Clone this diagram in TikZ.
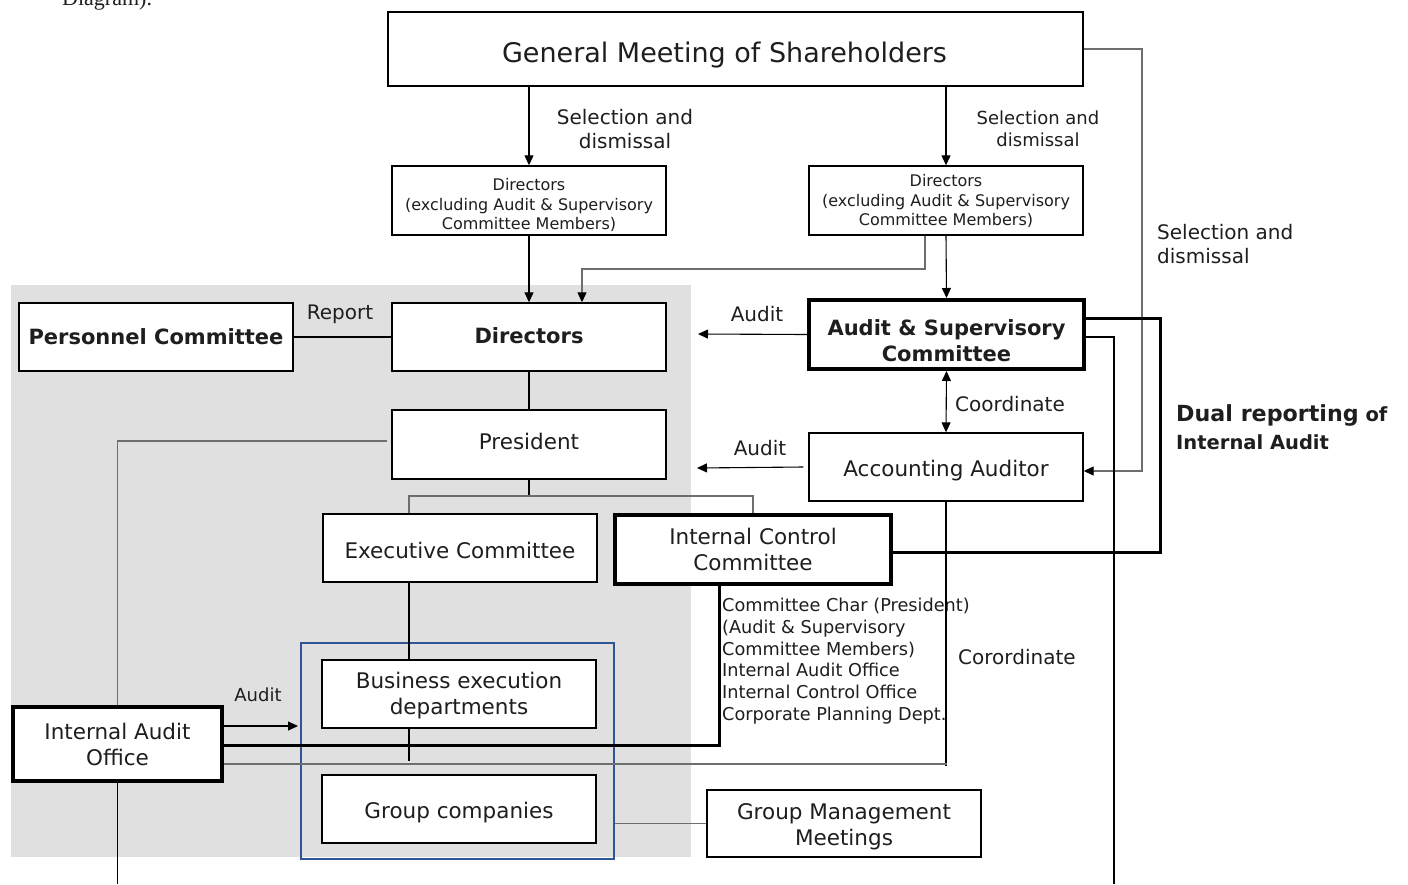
\documentclass[tikz,border=0pt]{standalone}
\usepackage{fontspec}
\setmainfont{DejaVu Sans}
\newfontfamily\seriffont{Liberation Serif}
\usetikzlibrary{arrows.meta}
\definecolor{bgray}{HTML}{E0E0E0}
\definecolor{bblue}{HTML}{2F5597}
\definecolor{lgray}{HTML}{6E6E6E}
\definecolor{txt}{HTML}{1E1E1E}
\begin{document}
\begin{tikzpicture}[x=1pt,y=-1pt,
  box/.style={draw=black, line width=1.4pt, fill=white, minimum width=274pt, minimum height=68pt, inner sep=0pt},
  tbox/.style={box, line width=4pt},
  bt/.style={text=txt, inner sep=0pt, align=center, font=\fontsize{21.5}{26}\selectfont},
  conn/.style={line width=1.1pt, draw=black},
  gline/.style={line width=1.1pt, draw=lgray},
  tline/.style={line width=3pt, draw=black},
  tip/.style={-{Triangle[length=10pt,width=9pt,color=black]}},
  arr/.style={conn, tip},
  arrr/.style={conn, {Triangle[length=10pt,width=9pt]}-{Triangle[length=10pt,width=9pt]}},
  lbl/.style={text=txt, inner sep=0pt, align=center, font=\fontsize{20}{24}\selectfont}
]
\useasboundingbox (0,0) rectangle (1408,884);
\fill[white] (0,0) rectangle (1408,884);
% gray background
\fill[bgray] (11,285) rectangle (691,857);

\node[lbl, anchor=base west, font=\seriffont\fontsize{22}{26}\selectfont] (diag) at (62,5) {Diagram).};

% boxes
\node[box, minimum width=695pt, minimum height=74pt] (gms) at (735.5,49) {};
\node[bt, xshift=-11pt, yshift=-6pt, font=\fontsize{27}{32}\selectfont] (gmst) at (gms) {General Meeting of Shareholders};
\node[box, minimum height=69pt] (dirl) at (529,200.5) {};
\node[bt, yshift=-4.5pt, font=\fontsize{16}{19.3}\selectfont] (dirlt) at (dirl) {Directors\\(excluding Audit \& Supervisory\\Committee Members)};
\node[box, minimum height=69pt] (dirr) at (946,200.5) {};
\node[bt, yshift=-0.5pt, font=\fontsize{16}{19.3}\selectfont] (dirrt) at (dirr) {Directors\\(excluding Audit \& Supervisory\\Committee Members)};
\node[box] (dir) at (529,337) {};
\node[bt, yshift=1pt, font=\bfseries\fontsize{21}{25}\selectfont] (dirt) at (dir) {Directors};
\node[box] (pers) at (156,337) {};
\node[bt, font=\bfseries\fontsize{21}{25}\selectfont] (perst) at (pers) {Personnel Committee};
\node[tbox, minimum width=275pt, minimum height=69pt] (asc) at (946.5,334.5) {};
\node[bt, yshift=-6pt, font=\bfseries\fontsize{21}{25.5}\selectfont] (asct) at (asc) {Audit \& Supervisory\\Committee};
\node[box] (aa) at (946,467) {};
\node[bt, yshift=-4pt] (aat) at (aa) {Accounting Auditor};
\node[box, minimum height=69pt] (pres) at (529,444.5) {};
\node[bt, yshift=3pt] (prest) at (pres) {President};
\node[box] (exec) at (460,548) {};
\node[bt, yshift=-2pt] (exect) at (exec) {Executive Committee};
\node[tbox, minimum width=276pt, minimum height=69pt] (icc) at (753,549.5) {};
\node[bt] (icct) at (icc) {Internal Control\\Committee};
\node[draw=bblue, line width=2.5pt, minimum width=313pt, minimum height=216pt, inner sep=0pt] (grp) at (457.5,751) {};
\node[box] (bed) at (459,694) {};
\node[bt, yshift=-2pt] (bedt) at (bed) {Business execution\\departments};
\node[box] (gc) at (459,809) {};
\node[bt, yshift=-4pt] (gct) at (gc) {Group companies};
\node[box, minimum height=67pt] (gmm) at (844,823.5) {};
\node[bt, yshift=-3pt] (gmmt) at (gmm) {Group Management\\Meetings};
\node[tbox, minimum width=209pt, minimum height=74pt] (iao) at (117.5,744) {};
\node[bt] (iaot) at (iao) {Internal Audit\\Office};

% labels
\node[lbl] (l1) at (625,129.5) {Selection and\\dismissal};
\node[lbl, font=\fontsize{18}{22}\selectfont] (l2) at (1038,129) {Selection and\\dismissal};
\node[lbl, anchor=west, align=left] (l3) at (1157,244) {Selection and\\dismissal};
\node[lbl] (l4) at (340,314) {Report};
\node[lbl] (l5) at (757,314) {Audit};
\node[lbl, anchor=west] (l6) at (955,404) {Coordinate};
\node[lbl] (l7) at (760,448) {Audit};
\node[lbl, font=\fontsize{18}{22}\selectfont] (l8) at (258,695) {Audit};
\node[lbl, anchor=west] (l9) at (958,657) {Corordinate};
\node[lbl, anchor=north west, align=left, font=\fontsize{17.7}{21.7}\selectfont] (l10) at (722,598) {Committee Char (President)\\(Audit \& Supervisory\\Committee Members)\\Internal Audit Office\\Internal Control Office\\Corporate Planning Dept.};
\node[lbl, anchor=west, align=left, font=\bfseries\fontsize{19.5}{23}\selectfont] (l11) at (1176,415) {{\fontsize{22.2}{26}\selectfont Dual reporting} of};
\node[lbl, anchor=west, align=left, font=\bfseries\fontsize{19.5}{23}\selectfont] (l12) at (1176,442) {Internal Audit};

% coordinates
\coordinate (c1) at (1142,49);
\coordinate (c2) at (698,334);
\coordinate (c3) at (697,468);
\coordinate (pb) at (529,496);
\coordinate (c4) at (1160,552);
\coordinate (c5) at (1114,884);
\coordinate (c6) at (946,766);
\coordinate (c7) at (947,764);
\coordinate (c8) at (298,726);
\coordinate (c9) at (117.5,884);
\coordinate (c10) at (529,269);

% connectors
\draw[arr] (gms.south -| dirl) -- (dirl.north);
\draw[arr] (gms.south -| dirr) -- (dirr.north);
\draw[arr] (dirl.south) -- (dir.north);
\draw[gline, tip] ([xshift=-21pt]dirr.south) -- ([xshift=-21pt]dirr.south |- c10) -| ([xshift=53pt]dir.north);
\draw[arr] (dirr.south) -- (asc.north);
\draw[gline, tip] (gms.east) -- (c1) |- ([yshift=-4pt]aa.east);
\draw[conn] (pers.east) -- (dir.west);
\draw[arr] (asc.west) -- (c2);
\draw[arrr] (asc.south) -- (aa.north);
\draw[arr] ([xshift=-5pt]aa.west) -- (c3);
\draw[conn] (dir.south) -- (pres.north);
\draw[conn] (pres.south) -- (pb);
\draw[gline] ([xshift=-51pt]exec.north) |- (pb) -| (icc.north);
\draw[gline] ([xshift=-4pt, yshift=3.5pt]pres.west) -| (iao.north);
\draw[conn] ([xshift=-51pt]exec.south) -- ([xshift=-50pt]bed.north);
\draw[conn] ([xshift=-50pt]bed.south) -- ++(0,32);
\draw[tline] (icc.east |- c4) -- (c4) |- ([yshift=16pt]asc.east);
\draw[conn] ([yshift=-2.5pt]asc.east) -| (c5);
\draw[tline] ([xshift=-34pt]icc.south) |- ([yshift=-1pt]iao.east);
\draw[conn] (aa.south) -- (c6);
\draw[gline] ([yshift=-20pt]iao.east) -- (c7);
\draw[arr] ([yshift=18pt]iao.east) -- (c8);
\draw[conn] (iao.south) -- (c9);
\draw[gline] (grp.east |- gmm.west) -- (gmm.west);
\end{tikzpicture}
\end{document}
